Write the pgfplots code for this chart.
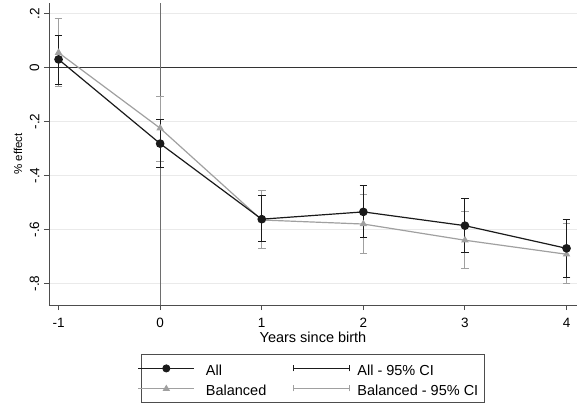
\documentclass[border=0pt]{standalone}
\usepackage{pgfplots}
\pgfplotsset{compat=1.18}
\usepackage{pgfplotstable}
\usepackage{fontspec}
\setmainfont{Liberation Sans}

\definecolor{allc}{HTML}{1A1A1A}
\definecolor{balc}{HTML}{A0A0A0}
\definecolor{gridc}{HTML}{EAEAEA}
\definecolor{axc}{HTML}{4D4D4D}
\definecolor{zeroc}{HTML}{333333}
\definecolor{vlinec}{HTML}{6E6E6E}

% x, point estimate, lower and upper 95% CI
\pgfplotstableread{
x y lo hi
-1 0.030 -0.062 0.120
0 -0.282 -0.371 -0.194
1 -0.562 -0.646 -0.475
2 -0.535 -0.630 -0.439
3 -0.586 -0.687 -0.484
4 -0.670 -0.777 -0.562
}\allci

\pgfplotstableread{
x y lo hi
-1 0.055 -0.071 0.180
0 -0.225 -0.347 -0.108
1 -0.565 -0.672 -0.457
2 -0.580 -0.688 -0.469
3 -0.640 -0.746 -0.534
4 -0.692 -0.802 -0.578
}\balci

\begin{document}
\begin{tikzpicture}
\begin{axis}[
  scale only axis, width=528pt, height=302pt,
  xmin=-1.094, xmax=4.103, ymin=-0.88, ymax=0.239,
  axis lines*=left,
  axis line style={axc, line width=0.9pt},
  tick style={axc, line width=0.9pt},
  tick align=outside, major tick length=5pt,
  xtick={-1,0,1,2,3,4}, xticklabels={-1,0,1,2,3,4},
  ytick={-0.8,-0.6,-0.4,-0.2,0,0.2}, yticklabels={-.8,-.6,-.4,-.2,0,.2},
  ymajorgrids, grid style={gridc, line width=0.9pt},
  ticklabel style={font=\fontsize{13.5}{16}\selectfont},
  yticklabel style={rotate=90, anchor=south, inner sep=4.5pt},
  xticklabel style={anchor=north, inner sep=3pt, yshift=-5pt},
  xlabel={Years since birth},
  ylabel={\% effect},
  xlabel style={font=\fontsize{14.5}{17}\selectfont, at={(axis description cs:0.5,-0.1248)}, anchor=base},
  ylabel style={font=\fontsize{11.5}{14}\selectfont, at={(axis description cs:-0.0587,0.5)}, anchor=center},
  legend columns=2,
  legend cell align=left,
  legend style={at={(axis description cs:0.5,-0.1623)}, anchor=north,
    draw=axc, line width=0.8pt, font=\fontsize{14.5}{17}\selectfont,
    inner xsep=-4pt, inner ysep=4pt, row sep=0pt,
    nodes={inner xsep=0pt, inner ysep=2pt, text height=15.1pt, text depth=0.9pt},
    /tikz/every even column/.append style={column sep=27pt}},
]
% reference lines
\addplot[forget plot, zeroc, line width=1.2pt] coordinates {(-1.094,0) (4.103,0)};
\addplot[forget plot, vlinec, line width=1pt] coordinates {(0,-0.88) (0,0.239)};

% confidence intervals
\addplot[forget plot, draw=none,
  error bars/.cd, y dir=both, y explicit,
  error bar style={draw=balc, line width=1pt},
  error mark options={draw=balc, line width=1pt, mark size=3.8pt, rotate=90}]
  table[x=x, y=y, y error plus expr=\thisrow{hi}-\thisrow{y}, y error minus expr=\thisrow{y}-\thisrow{lo}] {\balci};
\addplot[forget plot, draw=none,
  error bars/.cd, y dir=both, y explicit,
  error bar style={draw=allc, line width=1pt},
  error mark options={draw=allc, line width=1pt, mark size=3.8pt, rotate=90}]
  table[x=x, y=y, y error plus expr=\thisrow{hi}-\thisrow{y}, y error minus expr=\thisrow{y}-\thisrow{lo}] {\allci};

% point estimates
\addplot[forget plot, balc, line width=1.2pt, mark=triangle*, mark size=3.2pt] table[x=x, y=y] {\balci};
\addplot[forget plot, allc, line width=1.2pt, mark=*, mark size=3.7pt] table[x=x, y=y] {\allci};

% legend
\addlegendimage{legend image code/.code={\draw[allc, line width=1.2pt] (0pt,0pt) -- (56pt,0pt); \fill[allc] (28pt,0pt) circle (3.6pt);}}
\addlegendentry{\kern11pt All}
\addlegendimage{legend image code/.code={\draw[allc, line width=1pt] (0pt,0pt) -- (56pt,0pt) (0pt,-3pt) -- (0pt,3pt) (56pt,-3pt) -- (56pt,3pt);}}
\addlegendentry{\kern7pt All - 95\% CI\kern10pt}
\addlegendimage{legend image code/.code={\draw[balc, line width=1.2pt] (0pt,0pt) -- (56pt,0pt); \fill[balc] (28pt,3pt) -- (25pt,-2pt) -- (31pt,-2pt) -- cycle;}}
\addlegendentry{\kern11pt Balanced}
\addlegendimage{legend image code/.code={\draw[balc, line width=1pt] (0pt,0pt) -- (56pt,0pt) (0pt,-3pt) -- (0pt,3pt) (56pt,-3pt) -- (56pt,3pt);}}
\addlegendentry{\kern7pt Balanced - 95\% CI\kern10pt}
\end{axis}
\pgfresetboundingbox
\path[use as bounding box] (-49pt,-100pt) rectangle (529pt,305pt);
\end{tikzpicture}
\end{document}
